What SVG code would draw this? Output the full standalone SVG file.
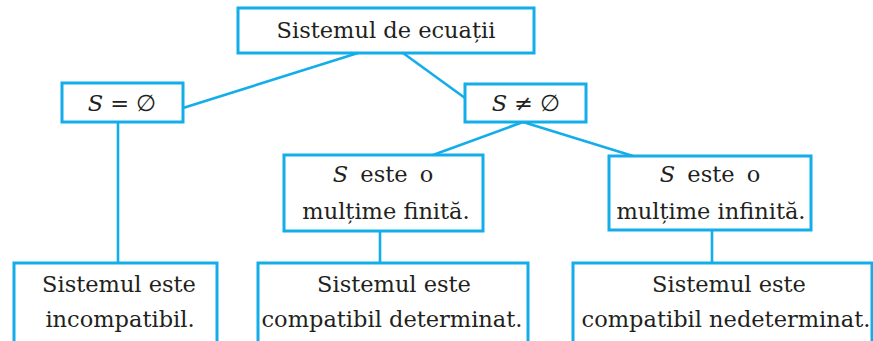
<svg xmlns="http://www.w3.org/2000/svg" width="873" height="341" viewBox="0 0 873 341">
<style>
.box{fill:#fff;stroke:#13aeea;stroke-width:3}
.ln{stroke:#13aeea;stroke-width:2.6;fill:none}
.t{font-size:22.5px;fill:#231f20;text-anchor:middle}
.it{font-style:italic}
.ws{word-spacing:5px}
</style>
<rect width="873" height="341" fill="#fff"/>
<g id="connectors">
<line class="ln" x1="358" y1="53" x2="183" y2="108"/>
<line class="ln" x1="403" y1="53" x2="465" y2="98"/>
<line class="ln" x1="523" y1="122" x2="433" y2="155"/>
<line class="ln" x1="523" y1="122" x2="633" y2="156"/>
<line class="ln" x1="118" y1="122" x2="118" y2="263"/>
<line class="ln" x1="380" y1="231" x2="380" y2="263"/>
<line class="ln" x1="712" y1="230" x2="712" y2="263"/>
</g>
<g id="root">
<rect class="box" x="238" y="8" width="296" height="45"/>
<text class="t" font-family="DejaVu Serif" x="386" y="38">Sistemul de ecuații</text>
</g>
<g id="empty">
<rect class="box" x="62" y="83" width="121" height="39"/>
<text class="t" font-family="DejaVu Serif" x="122" y="111"><tspan class="it">S</tspan> = ∅</text>
</g>
<g id="nonempty">
<rect class="box" x="465" y="84" width="121" height="38"/>
<text class="t" font-family="DejaVu Serif" x="526" y="111"><tspan class="it">S</tspan> ≠ ∅</text>
</g>
<g id="finite">
<rect class="box" x="284" y="155" width="199" height="76"/>
<text class="t ws" font-family="DejaVu Serif" x="383" y="182"><tspan class="it">S</tspan> este o</text>
<text class="t" font-family="DejaVu Serif" x="386" y="219">mulțime finită.</text>
</g>
<g id="infinite">
<rect class="box" x="609" y="156" width="202" height="74"/>
<text class="t ws" font-family="DejaVu Serif" x="710" y="182"><tspan class="it">S</tspan> este o</text>
<text class="t" font-family="DejaVu Serif" x="711" y="219">mulțime infinită.</text>
</g>
<g id="incompatible">
<rect class="box" x="14" y="263" width="203" height="90"/>
<text class="t" font-family="DejaVu Serif" x="119" y="292">Sistemul este</text>
<text class="t" font-family="DejaVu Serif" x="120" y="327">incompatibil.</text>
</g>
<g id="determined">
<rect class="box" x="258" y="263" width="270" height="90"/>
<text class="t" font-family="DejaVu Serif" x="394" y="292">Sistemul este</text>
<text class="t" font-family="DejaVu Serif" x="392" y="327">compatibil determinat.</text>
</g>
<g id="undetermined">
<rect class="box" x="573" y="263" width="299" height="90"/>
<text class="t" font-family="DejaVu Serif" x="729" y="292">Sistemul este</text>
<text class="t" font-family="DejaVu Serif" x="726" y="327">compatibil nedeterminat.</text>
</g>
</svg>
